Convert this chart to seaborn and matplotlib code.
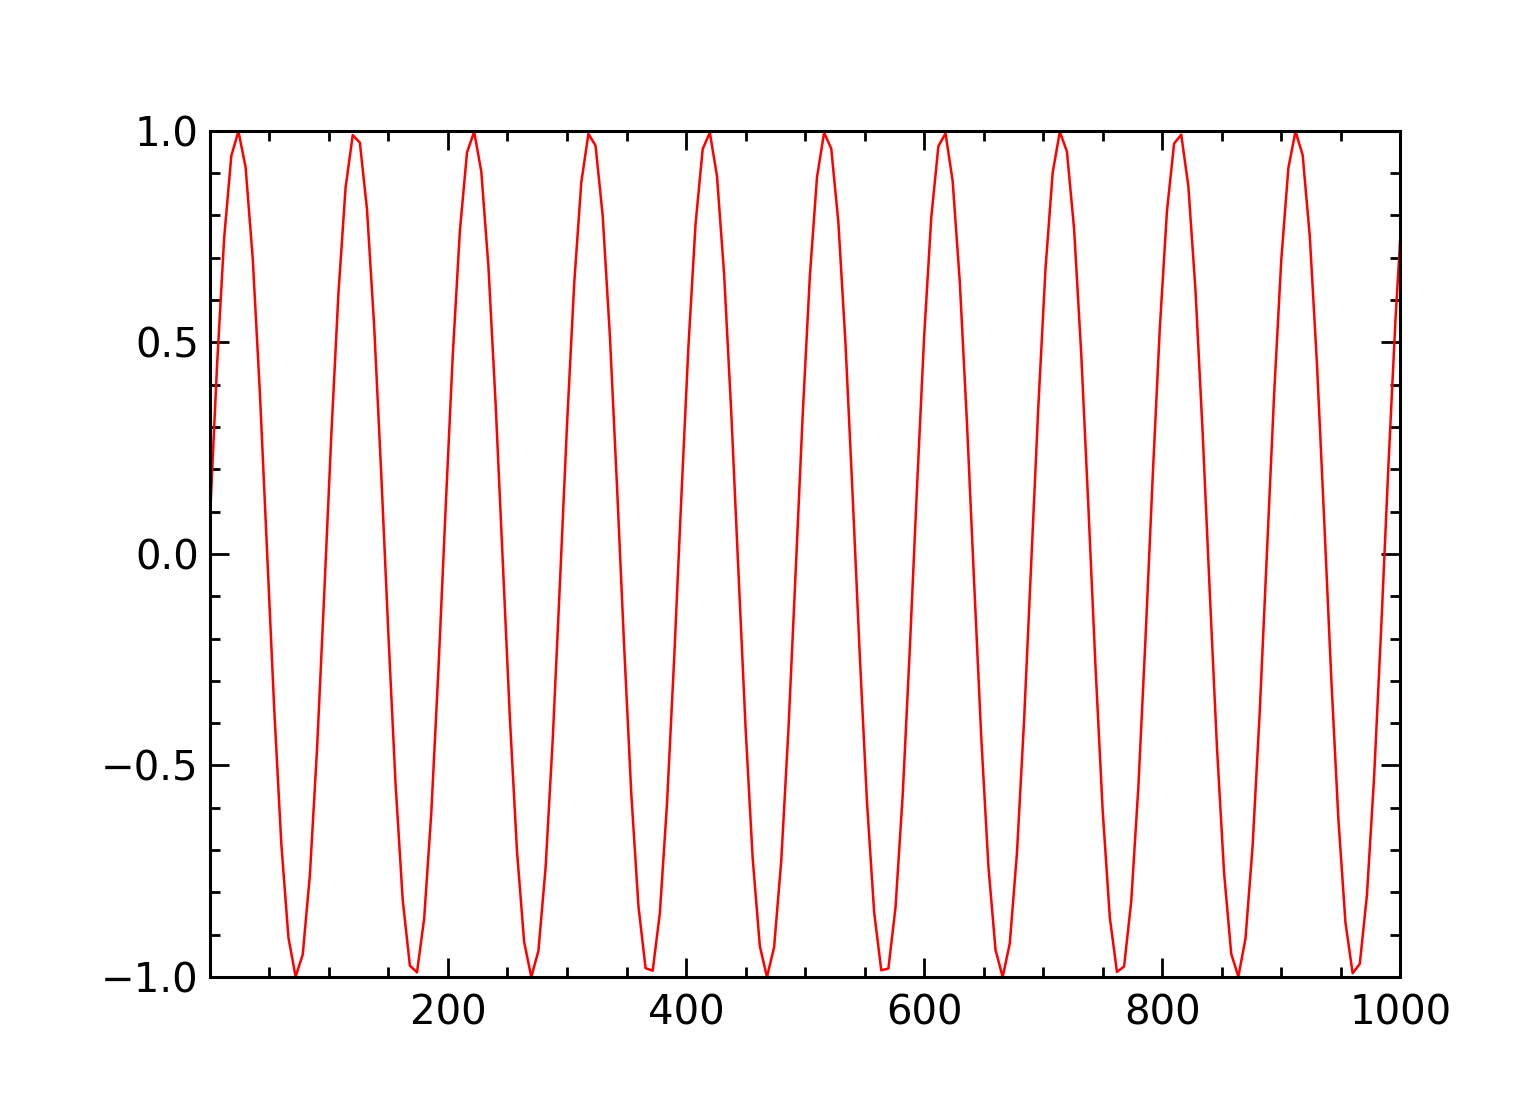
import numpy as np
import pandas as pd
import matplotlib
matplotlib.use("Agg")
import matplotlib.pyplot as plt
from matplotlib.ticker import MultipleLocator, FixedLocator
import seaborn as sns

# values, every 6 units
x_vals = [
    0, 6, 12, 18, 24, 30, 36, 42, 48, 54, 60, 66, 72, 78, 84, 90, 96,
    102, 108, 114, 120, 126, 132, 138, 144, 150, 156, 162, 168, 174, 180, 186, 192, 198,
    204, 210, 216, 222, 228, 234, 240, 246, 252, 258, 264, 270, 276, 282, 288, 294,
    300, 306, 312, 318, 324, 330, 336, 342, 348, 354, 360, 366, 372, 378, 384, 390, 396,
    402, 408, 414, 420, 426, 432, 438, 444, 450, 456, 462, 468, 474, 480, 486, 492, 498,
    504, 510, 516, 522, 528, 534, 540, 546, 552, 558, 564, 570, 576, 582, 588, 594,
    600, 606, 612, 618, 624, 630, 636, 642, 648, 654, 660, 666, 672, 678, 684, 690, 696,
    702, 708, 714, 720, 726, 732, 738, 744, 750, 756, 762, 768, 774, 780, 786, 792, 798,
    804, 810, 816, 822, 828, 834, 840, 846, 852, 858, 864, 870, 876, 882, 888, 894,
    900, 906, 912, 918, 924, 930, 936, 942, 948, 954, 960, 966, 972, 978, 984, 990, 996,
    1000,
]
y_vals = [
    0.080, 0.445, 0.747, 0.941, 0.999, 0.914, 0.698, 0.381, 0.009, -0.364, -0.685,
    -0.907, -0.999, -0.947, -0.759, -0.462, -0.098,
    0.280, 0.617, 0.866, 0.990, 0.972, 0.814, 0.539, 0.186, -0.193, -0.545, -0.818,
    -0.973, -0.989, -0.862, -0.612, -0.273, 0.105,
    0.468, 0.763, 0.949, 0.998, 0.904, 0.679, 0.357, -0.016, -0.387, -0.703, -0.917,
    -1.000, -0.938, -0.742, -0.439, -0.073,
    0.304, 0.637, 0.878, 0.993, 0.965, 0.799, 0.517, 0.161, -0.218, -0.566, -0.832,
    -0.979, -0.985, -0.849, -0.591, -0.249, 0.130,
    0.490, 0.780, 0.957, 0.996, 0.893, 0.661, 0.334, -0.041, -0.410, -0.720, -0.927,
    -1.000, -0.929, -0.725, -0.416, -0.048, 0.328,
    0.656, 0.890, 0.996, 0.958, 0.783, 0.495, 0.136, -0.242, -0.586, -0.846, -0.984,
    -0.980, -0.835, -0.571, -0.224, 0.155,
    0.512, 0.795, 0.964, 0.994, 0.881, 0.642, 0.310, -0.066, -0.433, -0.738, -0.936,
    -1.000, -0.920, -0.707, -0.393, -0.023, 0.351,
    0.675, 0.901, 0.998, 0.951, 0.768, 0.473, 0.111, -0.267, -0.606, -0.859, -0.988,
    -0.975, -0.821, -0.550, -0.199, 0.180, 0.533,
    0.810, 0.970, 0.991, 0.869, 0.622, 0.286, -0.092, -0.456, -0.754, -0.945, -0.999,
    -0.909, -0.689, -0.370, 0.003, 0.375,
    0.693, 0.912, 0.999, 0.943, 0.751, 0.451, 0.086, -0.291, -0.626, -0.872, -0.991,
    -0.969, -0.807, -0.529, -0.175, 0.205, 0.554,
    0.746,
]
x_ticks = [200, 400, 600, 800, 1000]
y_ticks = [-1.0, -0.5, 0.0, 0.5, 1.0]

df = pd.DataFrame({"x": x_vals, "y": y_vals})

sns.set_style("white")
plt.rcParams["font.family"] = ["DejaVu Sans"]

fig = plt.figure(figsize=(15.32, 11.09), dpi=100)
ax = fig.add_axes([0.137, 0.119, 0.777, 0.763])

sns.lineplot(data=df, x="x", y="y", color="red", linewidth=1.8,
             estimator=None, sort=False, ax=ax)

ax.set_xlim(0, 1000)
ax.set_ylim(-1.0, 1.0)
ax.xaxis.set_major_locator(FixedLocator(x_ticks))
ax.xaxis.set_minor_locator(MultipleLocator(50))
ax.yaxis.set_major_locator(FixedLocator(y_ticks))
ax.yaxis.set_minor_locator(MultipleLocator(0.1))
ax.set_xticklabels([str(t) for t in x_ticks])
ax.set_yticklabels(["\u22121.0", "\u22120.5", "0.0", "0.5", "1.0"])

ax.tick_params(which="both", direction="in", top=True, right=True,
               left=True, bottom=True,
               width=2.0, colors="black", labelsize=29)
ax.tick_params(which="major", length=14)
ax.tick_params(which="minor", length=7)
ax.tick_params(axis="x", pad=12)
ax.tick_params(axis="y", pad=8)

for s in ax.spines.values():
    s.set_visible(True)
    s.set_linewidth(2.2)
    s.set_color("black")

ax.set_xlabel("")
ax.set_ylabel("")
ax.grid(False)

fig.savefig("out.png", dpi=100)
